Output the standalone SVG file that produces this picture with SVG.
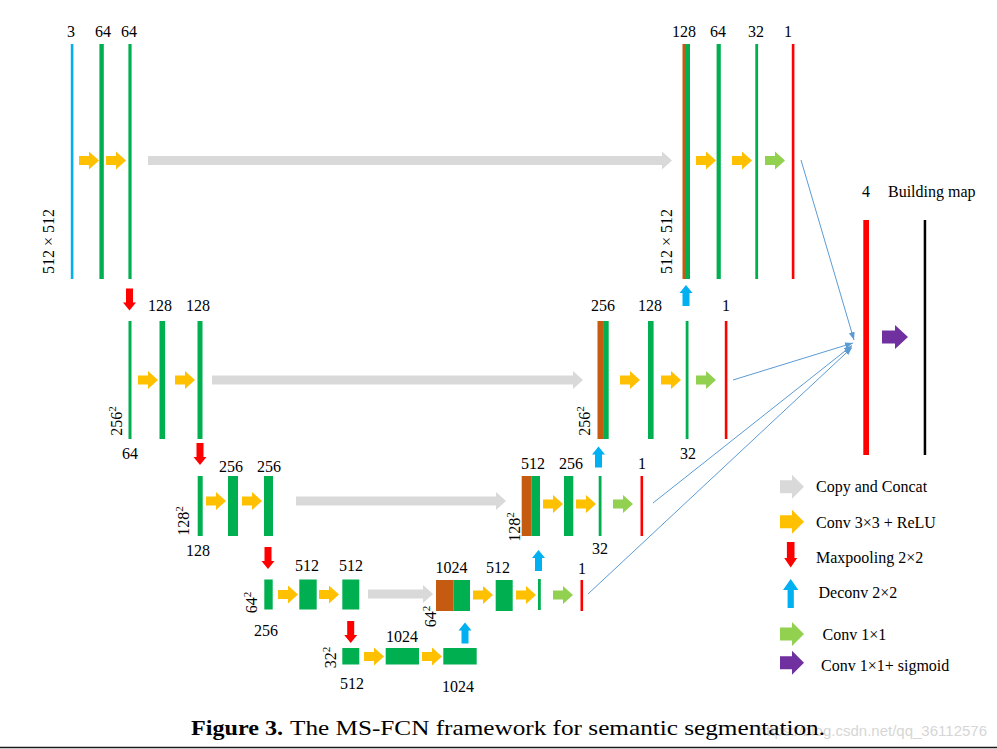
<svg xmlns="http://www.w3.org/2000/svg" xmlns:xlink="http://www.w3.org/1999/xlink" width="997" height="749" viewBox="0 0 997 749">
<style>
.lbl{font-family:"Liberation Serif","Times New Roman",serif;font-size:16px;fill:#000}
.mid{text-anchor:middle}
.og{fill:#FFC000}.lg{fill:#92D050}.gy{fill:#D9D9D9}.rd{fill:#FF0000}.bl{fill:#00B0F0}.pp{fill:#7030A0}.gr{fill:#00B050}.br{fill:#C55A11}.bk{fill:#000}
.cn{stroke:#5B9BD5;stroke-width:1;fill:none;marker-end:url(#mk)}
.sup{font-size:11px}
</style>
<defs>
<path id="ah" d="M0,-4.5H10V-9L20,0L10,9V4.5H0Z"/>
<path id="ahL" d="M0,-6.5H12V-12L24,0L12,12V6.5H0Z"/>
<path id="ad" d="M-3.5,0V14H-6.5L0,22L6.5,14H3.5V0Z"/>
<path id="au" d="M-3.5,0V-13H-6.5L0,-21L6.5,-13H3.5V0Z"/>
<marker id="mk" markerUnits="userSpaceOnUse" markerWidth="9" markerHeight="7" refX="8" refY="3" orient="auto"><path d="M0,0L8,3L0,6Z" fill="#5B9BD5"/></marker>
</defs>
<rect width="997" height="749" fill="#fff"/>

<!-- Level 1 encoder -->
<g id="n1a"><rect class="bl" x="70.8" y="44" width="2.6" height="235"/><text class="lbl mid" x="71" y="36.5">3</text></g>
<g id="n1b"><rect class="gr" x="99.4" y="44" width="4.4" height="235"/><text class="lbl mid" x="103" y="36.5">64</text></g>
<g id="n1c"><rect class="gr" x="128.4" y="44" width="3.2" height="235"/><text class="lbl mid" x="129" y="36.5">64</text></g>
<g id="d1"><text class="lbl mid" transform="translate(54,241.5) rotate(-90)">512 × 512</text></g>

<!-- Level 1 decoder -->
<g id="n1d"><rect class="br" x="682.5" y="44" width="3.5" height="235"/><rect class="gr" x="686" y="44" width="4" height="235"/><text class="lbl mid" x="684" y="36.5">128</text></g>
<g id="n1e"><rect class="gr" x="716.6" y="44" width="4.2" height="235"/><text class="lbl mid" x="718" y="36.5">64</text></g>
<g id="n1f"><rect class="gr" x="755.3" y="44" width="2.8" height="235"/><text class="lbl mid" x="756" y="36.5">32</text></g>
<g id="n1g"><rect class="rd" x="791.8" y="44" width="2.6" height="235"/><text class="lbl mid" x="788" y="36.5">1</text></g>
<g id="d1r"><text class="lbl mid" transform="translate(671.5,241.5) rotate(-90)">512 × 512</text></g>

<!-- Level 2 encoder -->
<g id="n2a"><rect class="gr" x="128.5" y="321" width="3" height="118"/><text class="lbl mid" x="130" y="458.5">64</text></g>
<g id="n2b"><rect class="gr" x="159.5" y="321" width="5.6" height="118"/><text class="lbl mid" x="160" y="310.5">128</text></g>
<g id="n2c"><rect class="gr" x="197.5" y="321" width="5" height="118"/><text class="lbl mid" x="198" y="310.5">128</text></g>
<g id="d2"><text class="lbl mid" transform="translate(122,421) rotate(-90)">256<tspan class="sup" dy="-6">2</tspan></text></g>

<!-- Level 2 decoder -->
<g id="n2d"><rect class="br" x="597.5" y="321" width="5.6" height="118"/><rect class="gr" x="603.1" y="321" width="5.6" height="118"/><text class="lbl mid" x="603" y="310.5">256</text></g>
<g id="n2e"><rect class="gr" x="648" y="321" width="5.6" height="118"/><text class="lbl mid" x="650" y="310.5">128</text></g>
<g id="n2f"><rect class="gr" x="685.7" y="321" width="2.8" height="118"/><text class="lbl mid" x="688" y="458.5">32</text></g>
<g id="n2g"><rect class="rd" x="724.8" y="321" width="2.6" height="118"/><text class="lbl mid" x="726" y="310.5">1</text></g>
<g id="d2r"><text class="lbl mid" transform="translate(589.5,421) rotate(-90)">256<tspan class="sup" dy="-6">2</tspan></text></g>

<!-- Level 3 encoder -->
<g id="n3a"><rect class="gr" x="197.7" y="476" width="5" height="60"/><text class="lbl mid" x="198" y="555.5">128</text></g>
<g id="n3b"><rect class="gr" x="228" y="476" width="10" height="60"/><text class="lbl mid" x="231" y="471.5">256</text></g>
<g id="n3c"><rect class="gr" x="264" y="476" width="9" height="60"/><text class="lbl mid" x="269" y="471.5">256</text></g>
<g id="d3"><text class="lbl mid" transform="translate(189,521) rotate(-90)">128<tspan class="sup" dy="-6">2</tspan></text></g>

<!-- Level 3 decoder -->
<g id="n3d"><rect class="br" x="521.7" y="476" width="10" height="60"/><rect class="gr" x="531.7" y="476" width="8.3" height="60"/><text class="lbl mid" x="533" y="468.5">512</text></g>
<g id="n3e"><rect class="gr" x="564" y="476" width="9.3" height="60"/><text class="lbl mid" x="571" y="468.5">256</text></g>
<g id="n3f"><rect class="gr" x="598.7" y="476" width="2.8" height="60"/><text class="lbl mid" x="600" y="553.5">32</text></g>
<g id="n3g"><rect class="rd" x="640.5" y="476" width="2.6" height="60"/><text class="lbl mid" x="642" y="468.5">1</text></g>
<g id="d3r"><text class="lbl mid" transform="translate(519.5,527) rotate(-90)">128<tspan class="sup" dy="-6">2</tspan></text></g>

<!-- Level 4 encoder -->
<g id="n4a"><rect class="gr" x="264.3" y="579.5" width="8.4" height="30"/><text class="lbl mid" x="266" y="635.5">256</text></g>
<g id="n4b"><rect class="gr" x="299.3" y="579.5" width="17.4" height="30"/><text class="lbl mid" x="307" y="570.5">512</text></g>
<g id="n4c"><rect class="gr" x="342.3" y="579.5" width="17" height="30"/><text class="lbl mid" x="351" y="570.5">512</text></g>
<g id="d4"><text class="lbl mid" transform="translate(256.5,602.5) rotate(-90)">64<tspan class="sup" dy="-6">2</tspan></text></g>

<!-- Level 4 decoder -->
<g id="n4d"><rect class="br" x="436" y="580" width="17.3" height="31"/><rect class="gr" x="453.3" y="580" width="16.7" height="31"/><text class="lbl mid" x="451.5" y="573">1024</text></g>
<g id="n4e"><rect class="gr" x="495.7" y="580" width="17" height="31"/><text class="lbl mid" x="498" y="573">512</text></g>
<g id="n4f"><rect class="gr" x="538" y="579" width="2.8" height="31"/></g>
<g id="n4g"><rect class="rd" x="580.5" y="580" width="2.6" height="31"/><text class="lbl mid" x="582" y="574">1</text></g>
<g id="d4r"><text class="lbl mid" transform="translate(436,616.5) rotate(-90)">64<tspan class="sup" dy="-6">2</tspan></text></g>

<!-- Level 5 bottleneck -->
<g id="n5a"><rect class="gr" x="342.3" y="648" width="17" height="16.5"/><text class="lbl mid" x="352" y="688.5">512</text></g>
<g id="n5b"><rect class="gr" x="385.7" y="648" width="33.3" height="16.5"/><text class="lbl mid" x="402" y="641.5">1024</text></g>
<g id="n5c"><rect class="gr" x="443.3" y="648" width="33.4" height="16.5"/><text class="lbl mid" x="458" y="692">1024</text></g>
<g id="d5"><text class="lbl mid" transform="translate(336,657.5) rotate(-90)">32<tspan class="sup" dy="-6">2</tspan></text></g>

<!-- Output -->
<g id="nout"><rect class="rd" x="863.3" y="220" width="5.7" height="235"/><text class="lbl mid" x="866" y="197">4</text></g>
<g id="nmap"><rect class="bk" x="923.7" y="220" width="2.5" height="235"/><text class="lbl" x="888" y="197">Building map</text></g>

<!-- Connectors -->
<g id="connectors">
<!-- copy and concat -->
<path class="gy" d="M148,156H662V151.5L672,160.5L662,169.5V165H148Z"/>
<path class="gy" d="M212,375.5H573V371L583,380L573,389V384.5H212Z"/>
<path class="gy" d="M296,496.5H496V492L506,501L496,510V505.5H296Z"/>
<path class="gy" d="M368,589.5H423V585L433,594L423,603V598.5H368Z"/>
<!-- conv 3x3 -->
<use href="#ah" class="og" x="79" y="160.5"/>
<use href="#ah" class="og" x="106" y="160.5"/>
<use href="#ah" class="og" x="696" y="160.5"/>
<use href="#ah" class="og" x="732" y="160.5"/>
<use href="#ah" class="og" x="138" y="380"/>
<use href="#ah" class="og" x="175" y="380"/>
<use href="#ah" class="og" x="620" y="380"/>
<use href="#ah" class="og" x="661" y="380"/>
<use href="#ah" class="og" x="206" y="501"/>
<use href="#ah" class="og" x="242" y="501"/>
<use href="#ah" class="og" x="543" y="504"/>
<use href="#ah" class="og" x="576" y="504"/>
<use href="#ah" class="og" x="278" y="594.5"/>
<use href="#ah" class="og" x="319" y="594.5"/>
<use href="#ah" class="og" x="473" y="595"/>
<use href="#ah" class="og" x="516" y="595"/>
<use href="#ah" class="og" x="364" y="656.5"/>
<use href="#ah" class="og" x="422" y="656.5"/>
<!-- conv 1x1 -->
<use href="#ah" class="lg" x="765" y="160.5"/>
<use href="#ah" class="lg" x="696" y="380"/>
<use href="#ah" class="lg" x="613" y="504"/>
<use href="#ah" class="lg" x="553" y="595"/>
<!-- maxpool -->
<use href="#ad" class="rd" x="129.5" y="288.5"/>
<use href="#ad" class="rd" x="200" y="443"/>
<use href="#ad" class="rd" x="268" y="547"/>
<use href="#ad" class="rd" x="350.7" y="621"/>
<!-- deconv -->
<use href="#au" class="bl" x="686" y="306"/>
<use href="#au" class="bl" x="598.5" y="467.5"/>
<use href="#au" class="bl" x="538.5" y="571"/>
<use href="#au" class="bl" x="465" y="643.5"/>
<!-- sigmoid -->
<path class="pp" d="M882,330.5H895V325L908,337L895,349V343.5H882Z"/>
<!-- fusion lines -->
<line class="cn" x1="801" y1="160" x2="854" y2="340"/>
<line class="cn" x1="733" y1="380" x2="853" y2="343"/>
<line class="cn" x1="653" y1="503" x2="852" y2="345.5"/>
<line class="cn" x1="588" y1="594" x2="852" y2="347.5"/>
</g>

<!-- Legend -->
<g id="legend">
<use href="#ahL" class="gy" x="780" y="486.7"/>
<text class="lbl" x="816" y="492">Copy and Concat</text>
<use href="#ahL" class="og" x="780" y="521.7"/>
<text class="lbl" x="816" y="527.5">Conv 3×3 + ReLU</text>
<path class="rd" d="M786.9,542V558H784.2L790.7,567.5L797.2,558H794.5V542Z"/>
<text class="lbl" x="816" y="563">Maxpooling 2×2</text>
<path class="bl" d="M787.6,608V590H783L790.7,579L798.4,590H793.8V608Z"/>
<text class="lbl" x="818.5" y="597.5">Deconv 2×2</text>
<use href="#ahL" class="lg" x="780" y="634"/>
<text class="lbl" x="822.5" y="640">Conv 1×1</text>
<use href="#ahL" class="pp" x="780" y="662.7"/>
<text class="lbl" x="821" y="670.5">Conv 1×1+ sigmoid</text>
</g>

<!-- Caption -->
<g id="caption">
<text x="987" y="736" text-anchor="end" font-family="'Liberation Sans',Arial,sans-serif" font-size="15" fill="#d6d6d6">https://blog.csdn.net/qq_36112576</text>
<text x="191" y="735" font-family="'Liberation Serif','Times New Roman',serif" font-size="22" font-weight="bold" textLength="92" lengthAdjust="spacingAndGlyphs">Figure 3.</text>
<text x="290" y="735" font-family="'Liberation Serif','Times New Roman',serif" font-size="22" textLength="535" lengthAdjust="spacingAndGlyphs">The MS-FCN framework for semantic segmentation.</text>
<line x1="0" y1="747.5" x2="997" y2="747.5" stroke="#1a1a1a" stroke-width="1.5"/>
</g>
</svg>
